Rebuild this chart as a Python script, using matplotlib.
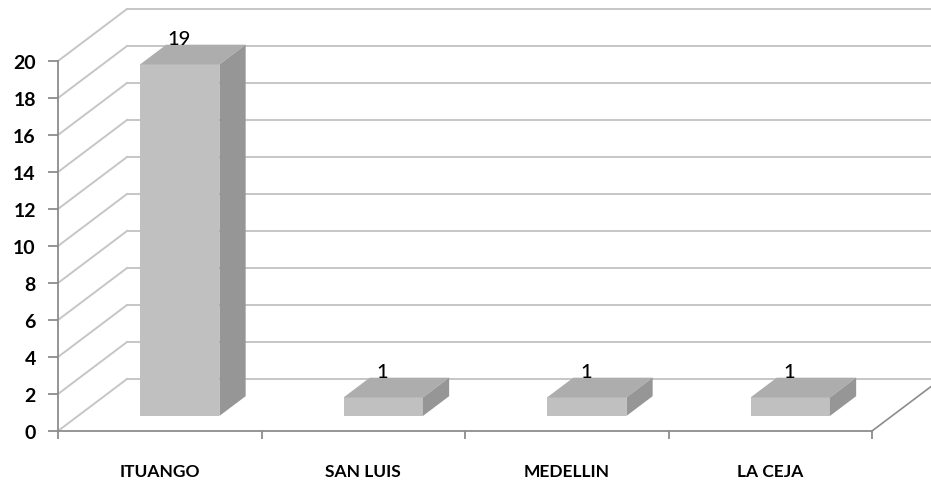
import matplotlib.pyplot as plt
from matplotlib.patches import Polygon
import numpy as np

# data
categories = ["ITUANGO", "SAN LUIS", "MEDELLIN", "LA CEJA"]
values = [19, 1, 1, 1]
yticks = list(range(0, 21, 2))

# pseudo 3d geometry (data units)
DX, DY = 0.339, 2.81      # full depth offset of the back wall
F0, F1 = 0.29, 0.67       # bar front / back as fraction of depth
BW = 0.39                 # bar width

fig = plt.figure(figsize=(9.31, 4.81), dpi=100)
ax = fig.add_axes([58/931, 49/481, 814/931, 370/481])
ax.set_xlim(-0.5, 3.5)
ax.set_ylim(0, 20)

grid_c = '#c6c6c6'
axis_c = '#8c8c8c'
fnt = dict(family='Lato', weight='bold')

# back wall + side wall gridlines
for v in yticks:
    ax.plot([-0.5, -0.5 + DX], [v, v + DY], color=grid_c, lw=1.4,
            clip_on=False, zorder=1)
    ax.plot([-0.5 + DX, 3.5 + DX + 0.5], [v + DY, v + DY], color=grid_c,
            lw=1.4, clip_on=False, zorder=1)
# floor right edge
ax.plot([3.5, 3.5 + DX], [0, DY], color=axis_c, lw=1.2, clip_on=False, zorder=1)

# bars
x = np.arange(len(categories))
front_c, top_c, side_c = '#c0c0c0', '#adadad', '#969696'
bx = x + F0 * DX
bb = F0 * DY
ax.bar(bx, values, width=BW, bottom=bb, color=front_c, zorder=3,
       clip_on=False)
ddx, ddy = (F1 - F0) * DX, (F1 - F0) * DY
for xi, v in zip(bx, values):
    x0, x1 = xi - BW / 2, xi + BW / 2
    top = bb + v
    ax.add_patch(Polygon([(x0, top), (x1, top), (x1 + ddx, top + ddy),
                          (x0 + ddx, top + ddy)], closed=True,
                         facecolor=top_c, edgecolor='none', zorder=3,
                         clip_on=False))
    ax.add_patch(Polygon([(x1, bb), (x1, top), (x1 + ddx, top + ddy),
                          (x1 + ddx, bb + ddy)], closed=True,
                         facecolor=side_c, edgecolor='none', zorder=3,
                         clip_on=False))
    ax.text(xi - 0.005, top + 1.4, str(v), ha='center', va='center',
            fontsize=14.5, zorder=5, clip_on=False, family='Lato',
            weight='medium')

# axes styling
for s in ['top', 'right']:
    ax.spines[s].set_visible(False)
for s in ['left', 'bottom']:
    ax.spines[s].set_color(axis_c)
    ax.spines[s].set_linewidth(1.3)
    ax.spines[s].set_zorder(2)
ax.set_yticks(yticks)
ax.set_yticklabels([str(t) for t in yticks], fontsize=14, **fnt)
ax.tick_params(axis='y', length=7, color=axis_c, width=1.3, pad=9)
ax.set_xticks(np.arange(-0.5, 4.0, 1.0), minor=True)
ax.set_xticks(x)
ax.set_xticklabels(categories, fontsize=12.5, **fnt)
ax.tick_params(axis='x', which='major', length=0, pad=23)
ax.tick_params(axis='x', which='minor', length=6, color=axis_c, width=1.3)
ax.patch.set_visible(False)

fig.savefig('out.png', dpi=100)
